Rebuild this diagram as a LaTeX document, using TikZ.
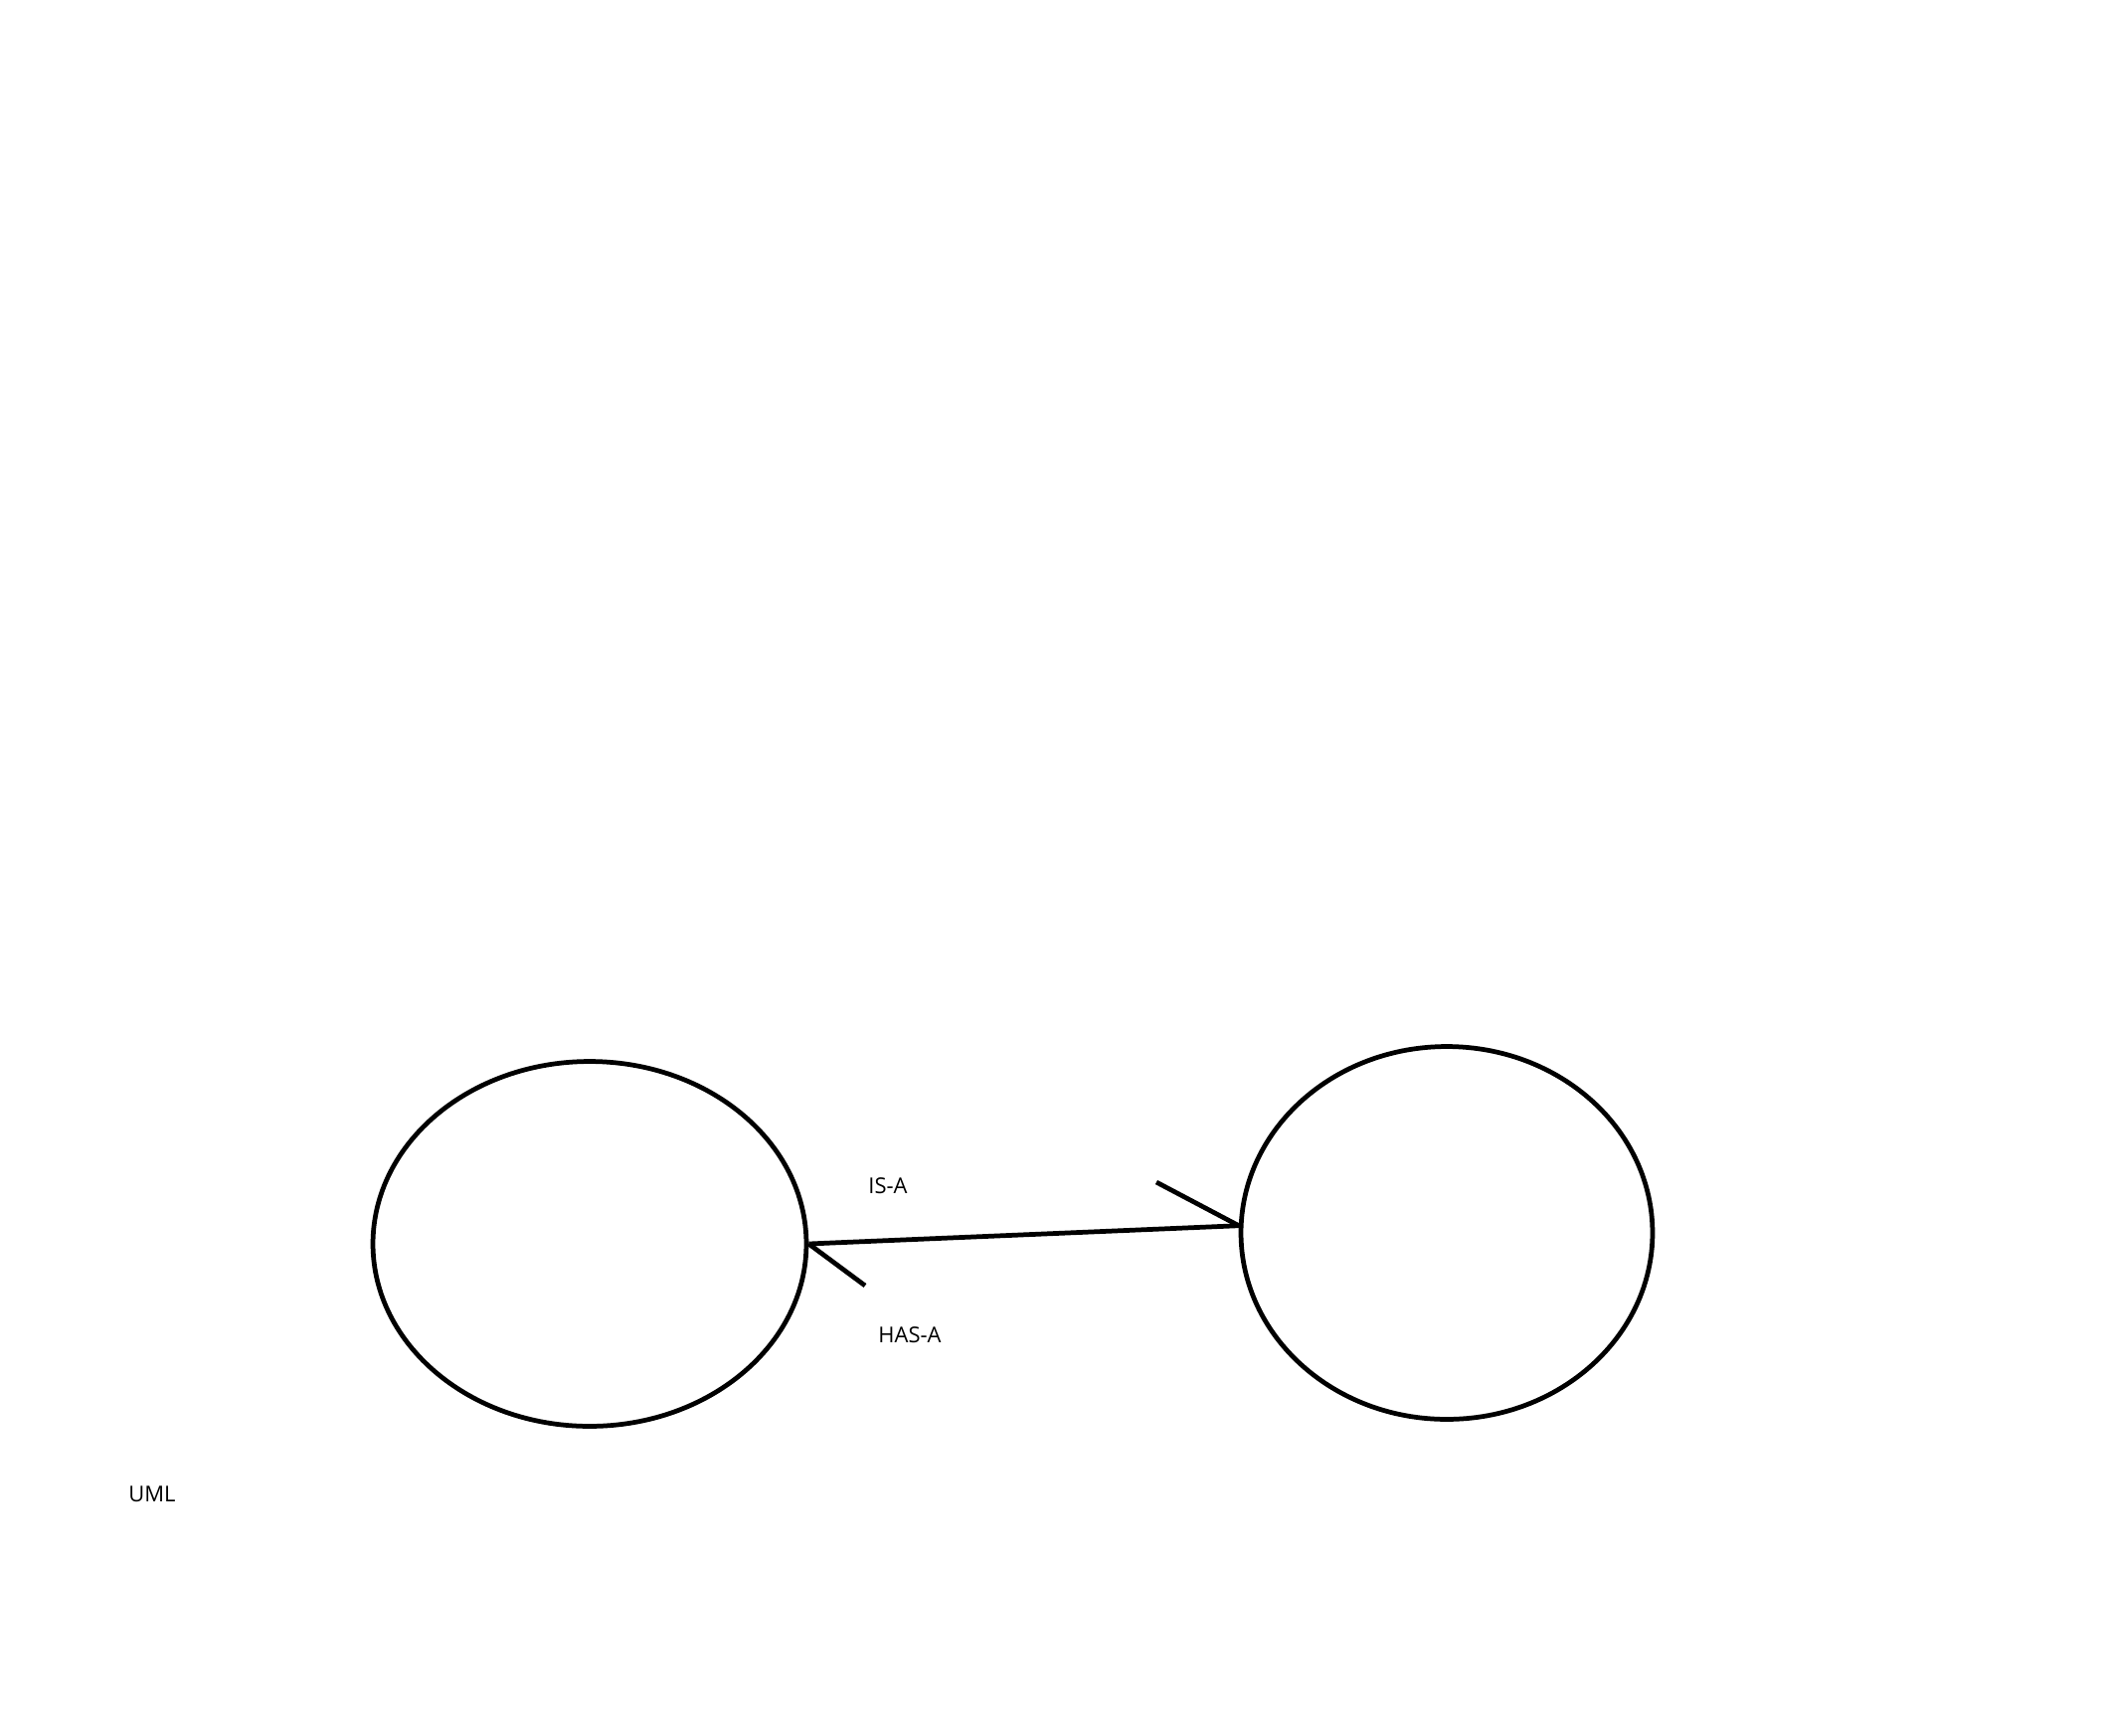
\documentclass[tikz,border=0pt]{standalone}
\usepackage{fontspec}
\setmainfont{Open Sans}
\usetikzlibrary{shapes.geometric}

\begin{document}
\begin{tikzpicture}[x=0.02cm, y=-0.02cm, line width=2.7pt,
    cls/.style={draw, ellipse, inner sep=0pt},
    lbl/.style={font=\fontsize{12.5}{15}\selectfont, inner sep=0pt}]
  \useasboundingbox (0, 0) rectangle (2116, 1745);

  \node[cls, minimum width=8.72cm, minimum height=7.34cm] (L) at (593, 1251) {};
  \node[cls, minimum width=8.28cm, minimum height=7.50cm] (R) at (1455, 1240) {};

  \coordinate (hasend) at (870, 1293);
  \coordinate (isend)  at (1163, 1189);

  \draw (L.east) -- (R.178);
  \draw (L.east) -- (hasend);   % HAS-A tick
  \draw (isend) -- (R.178);     % IS-A tick

  \node[lbl] (isa)  at (893, 1193) {IS-A};
  \node[lbl] (hasa) at (915, 1343) {HAS-A};
  \node[lbl] (uml)  at (153, 1503) {UML};
\end{tikzpicture}
\end{document}
